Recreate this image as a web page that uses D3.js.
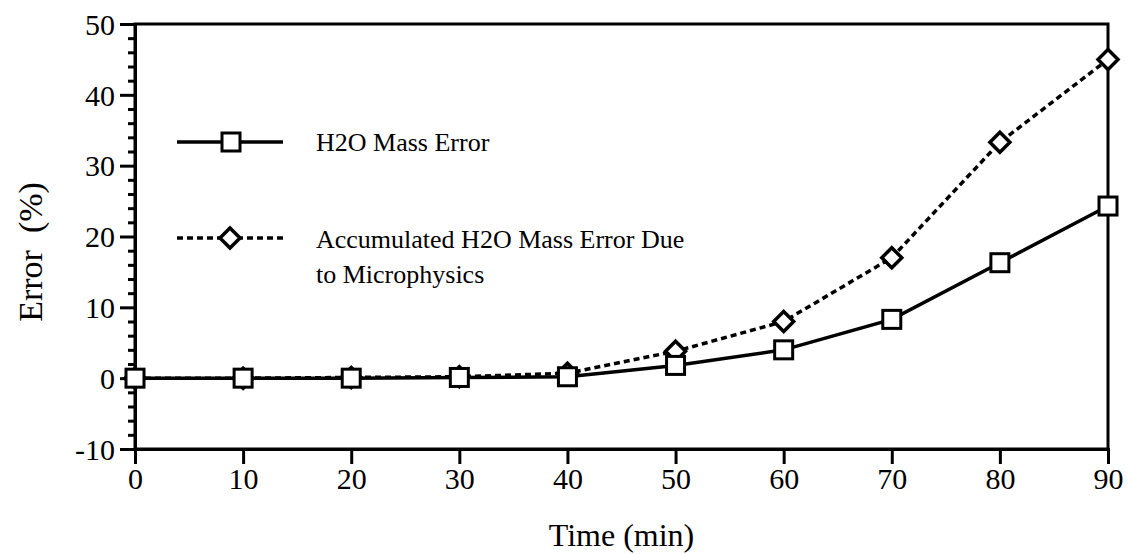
<!DOCTYPE html>
<html><head><meta charset="utf-8">
<script src="https://cdn.jsdelivr.net/npm/d3@7"></script>
<style>body{margin:0;background:#fff}svg{display:block}svg text{font-family:"Liberation Serif","Times New Roman",serif !important;fill:#000}</style>
</head><body><svg id="c" width="1128" height="554"></svg>
<script>
const times = [0,10,20,30,40,50,60,70,80,90];
const massError = [0,0,0,0.1,0.2,1.8,4.0,8.3,16.3,24.3];
const accumError = [0,0,0.1,0.2,0.7,3.8,8.0,17.0,33.3,45.0];
const xTicks = [0,10,20,30,40,50,60,70,80,90];
const yTicks = [-10,0,10,20,30,40,50];
const yMinor = d3.range(-10,51,2);
const seriesNames = ["H2O Mass Error","Accumulated H2O Mass Error Due","to Microphysics"];

const svg = d3.select("#c");
const L=135,R=1108,T=24,B=449;
const x = d3.scaleLinear().domain([0,90]).range([L,R]);
const y = d3.scaleLinear().domain([-10,50]).range([B,T]);

svg.append("rect").attr("x",L).attr("y",T).attr("width",R-L).attr("height",B-T)
  .attr("fill","none").attr("stroke","#000").attr("stroke-width",3);

const ya = svg.append("g").attr("transform",`translate(${L},0)`)
  .call(d3.axisLeft(y).tickValues(yTicks).tickSize(15).tickPadding(5).tickFormat(d=>d));
ya.select(".domain").attr("stroke-width",3);
ya.selectAll(".tick line").attr("stroke-width",3);
ya.selectAll(".tick text").attr("font-size",30).attr("dy","0.34em");
const ym = svg.append("g").attr("transform",`translate(${L},0)`)
  .call(d3.axisLeft(y).tickValues(yMinor.filter(v=>v%10!==0)).tickSize(7).tickFormat(""));
ym.select(".domain").remove();
ym.selectAll(".tick line").attr("stroke-width",3);

const xa = svg.append("g").attr("transform",`translate(0,${B})`)
  .call(d3.axisBottom(x).tickValues(xTicks).tickSize(15).tickPadding(4).tickFormat(d=>d));
xa.select(".domain").attr("stroke-width",3);
xa.selectAll(".tick line").attr("stroke-width",3);
xa.selectAll(".tick text").attr("font-size",30);

svg.append("text").attr("x",(L+R)/2).attr("y",546).attr("text-anchor","middle")
  .attr("font-size",32).text("Time (min)");
svg.append("text").attr("transform",`translate(42,252) rotate(-90)`).attr("text-anchor","middle")
  .attr("font-size",34).style("white-space","pre").text("Error  (%)");

const line = d3.line().x((d,i)=>x(times[i])).y(d=>y(d));
svg.append("path").datum(accumError).attr("d",line).attr("fill","none")
  .attr("stroke","#000").attr("stroke-width",3.5).attr("stroke-dasharray","6,4");
svg.append("path").datum(massError).attr("d",line).attr("fill","none")
  .attr("stroke","#000").attr("stroke-width",3.5);

const sq=18, dm=10;
function square(g,cx,cy){g.append("rect").attr("x",cx-sq/2).attr("y",cy-sq/2).attr("width",sq).attr("height",sq)
  .attr("fill","#fff").attr("stroke","#000").attr("stroke-width",3);}
function diamond(g,cx,cy){g.append("path").attr("d",`M${cx},${cy-dm}L${cx+dm},${cy}L${cx},${cy+dm}L${cx-dm},${cy}Z`)
  .attr("fill","#fff").attr("stroke","#000").attr("stroke-width",3.5);}
const mk = svg.append("g");
accumError.forEach((v,i)=>diamond(mk,x(times[i]),y(v)));
massError.forEach((v,i)=>square(mk,x(times[i]),y(v)));

const lg = svg.append("g");
lg.append("line").attr("x1",177).attr("x2",283).attr("y1",142).attr("y2",142).attr("stroke","#000").attr("stroke-width",3.5);
square(lg,231,142);
lg.append("text").attr("x",316).attr("y",151).attr("font-size",26).text(seriesNames[0]);
lg.append("line").attr("x1",177).attr("x2",283).attr("y1",238).attr("y2",238).attr("stroke","#000").attr("stroke-width",3.5).attr("stroke-dasharray","6,4");
diamond(lg,230,238);
lg.append("text").attr("x",316).attr("y",248).attr("font-size",26).text(seriesNames[1]);
lg.append("text").attr("x",316).attr("y",283).attr("font-size",26).text(seriesNames[2]);
</script></body></html>
